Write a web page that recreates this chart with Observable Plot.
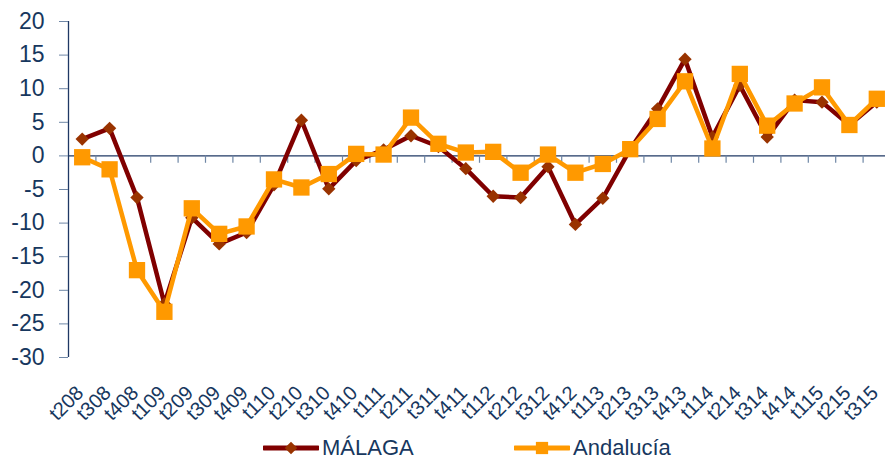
<!DOCTYPE html>
<html>
<head>
<meta charset="utf-8">
<script src="https://cdn.jsdelivr.net/npm/d3@7"></script>
<script src="https://cdn.jsdelivr.net/npm/@observablehq/plot@0.6"></script>
<style>
  html, body { margin: 0; padding: 0; background: #fff; }
  body { width: 885px; height: 460px; overflow: hidden; font-family: "Liberation Sans", Arial, sans-serif; }
  #legend { position: relative; height: 22px; margin-top: 5px; }
  #legend .item { position: absolute; top: 0; display: flex; align-items: center; height: 22px; line-height: 22px; font-size: 22px; color: #17375e; }
</style>
</head>
<body>
<div id="chart"></div>
<div id="legend"></div>
<script>
const categories = ["t208","t308","t408","t109","t209","t309","t409","t110","t210","t310","t410","t111","t211","t311","t411","t112","t212","t312","t412","t113","t213","t313","t413","t114","t214","t314","t414","t115","t215","t315"];
const malaga = [2.5, 4.1, -6.2, -22.0, -9.2, -13.1, -11.4, -4.3, 5.3, -4.9, -0.7, 0.9, 3.0, 1.4, -1.9, -6.0, -6.2, -1.6, -10.2, -6.3, 1.0, 7.0, 14.4, 2.8, 10.5, 2.8, 8.3, 8.0, 4.6, 8.0];
const andalucia = [-0.2, -2.0, -17.0, -23.2, -7.8, -11.6, -10.5, -3.5, -4.7, -2.7, 0.3, 0.2, 5.7, 1.8, 0.5, 0.6, -2.5, 0.2, -2.5, -1.2, 1.0, 5.5, 11.1, 1.1, 12.2, 4.5, 7.8, 10.2, 4.6, 8.5];
const yTicks = [-30, -25, -20, -15, -10, -5, 0, 5, 10, 15, 20];
const seriesNames = ["MÁLAGA", "Andalucía"];
const colors = { malagaLine: "#800000", malagaMark: "#993300", andalucia: "#ff9900" };
const textColor = "#17375e";
const axisColor = "#1f3864";

const idx = categories.map((_, i) => i);
const boundaries = categories.slice(1).map((_, i) => i + 0.5);
const dataM = idx.map(i => ({i, v: malaga[i]}));
const dataA = idx.map(i => ({i, v: andalucia[i]}));

const plot = Plot.plot({
  width: 885,
  height: 432,
  marginLeft: 68,
  marginRight: -5,
  marginTop: 21,
  marginBottom: 75,
  style: { fontFamily: "'Liberation Sans', Arial, sans-serif", color: textColor, background: "#fff", overflow: "visible" },
  x: { type: "linear", domain: [-0.5, categories.length - 0.5] },
  y: { domain: [-30, 20] },
  marks: [
    Plot.ruleY([0], { stroke: axisColor, strokeWidth: 1.3 }),
    Plot.ruleX(boundaries, { x: d => d, y1: 0, y2: -1.1, stroke: "#6f87a6", strokeWidth: 1.2 }),
    Plot.ruleX([-0.5], { y1: -30, y2: 20, stroke: axisColor, strokeWidth: 1.3 }),
    Plot.axisY({ ticks: yTicks, tickFormat: d => String(d), tickSize: 9, tickPadding: 15, fontSize: 23, stroke: "#6f87a6", color: textColor, label: null }),
    Plot.axisX({ ticks: idx, tickFormat: i => categories[i], tickRotate: -45, tickSize: 0, tickPadding: 32, dx: -2, fontSize: 20, color: textColor, label: null }),
    Plot.line(dataM, { x: "i", y: "v", stroke: colors.malagaLine, strokeWidth: 4.5 }),
    Plot.dot(dataM, { x: "i", y: "v", symbol: "diamond2", r: 6, fill: colors.malagaMark, stroke: null }),
    Plot.line(dataA, { x: "i", y: "v", stroke: colors.andalucia, strokeWidth: 4.5 }),
    Plot.dot(dataA, { x: "i", y: "v", symbol: "square", r: 9.2, fill: colors.andalucia, stroke: null })
  ]
});
document.getElementById("chart").appendChild(plot);

// Legend
const legend = document.getElementById("legend");
function addItem(left, name, lineColor, markColor, symbol) {
  const item = document.createElement("div");
  item.className = "item";
  item.style.left = left + "px";
  const ns = "http://www.w3.org/2000/svg";
  const svg = document.createElementNS(ns, "svg");
  svg.setAttribute("width", 56); svg.setAttribute("height", 22);
  const line = document.createElementNS(ns, "line");
  line.setAttribute("x1", 1); line.setAttribute("x2", 55); line.setAttribute("y1", 11); line.setAttribute("y2", 11);
  line.setAttribute("stroke", lineColor); line.setAttribute("stroke-width", 5); line.setAttribute("stroke-linecap", "round");
  svg.appendChild(line);
  const p = document.createElementNS(ns, "path");
  p.setAttribute("d", d3.symbol(symbol, symbol === d3.symbolSquare ? 150 : 100)());
  p.setAttribute("transform", "translate(28,11)");
  p.setAttribute("fill", markColor);
  svg.appendChild(p);
  item.appendChild(svg);
  const t = document.createElement("span");
  t.textContent = name;
  t.style.marginLeft = "3px";
  item.appendChild(t);
  legend.appendChild(item);
}
addItem(263, seriesNames[0], colors.malagaLine, colors.malagaMark, d3.symbolDiamond2);
addItem(514, seriesNames[1], colors.andalucia, colors.andalucia, d3.symbolSquare);
</script>
</body>
</html>
